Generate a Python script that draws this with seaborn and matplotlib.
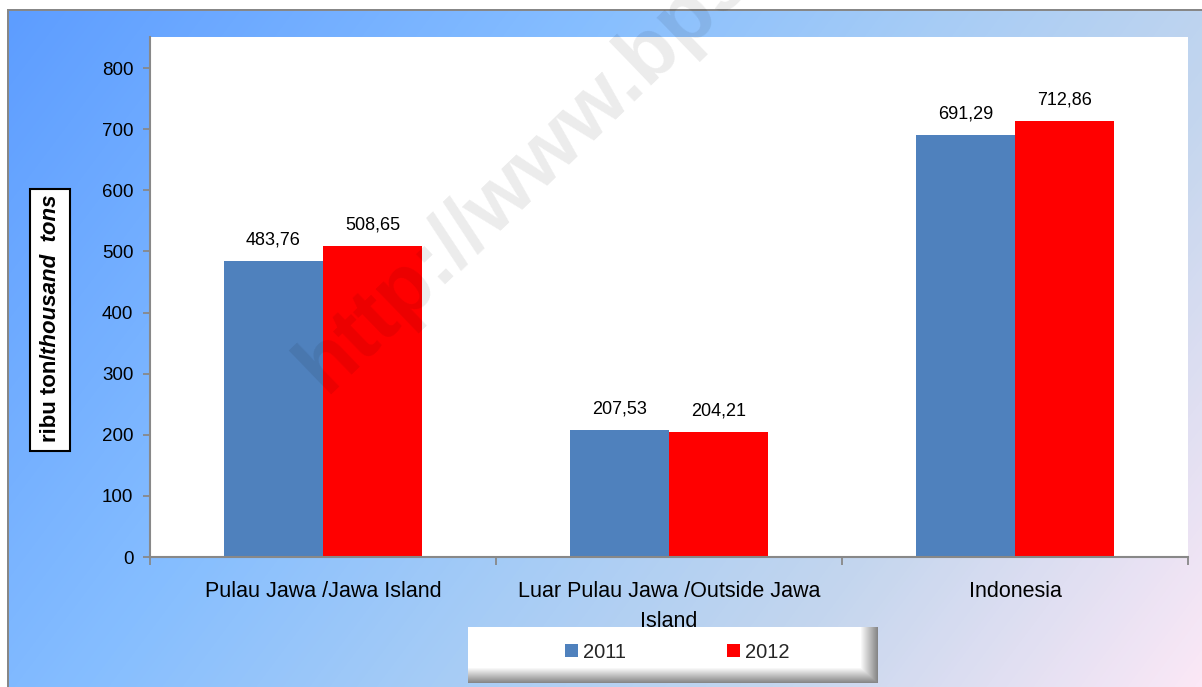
import numpy as np
import pandas as pd
import matplotlib
matplotlib.use("Agg")
import matplotlib.pyplot as plt
import seaborn as sns
from matplotlib.colors import LinearSegmentedColormap
from matplotlib.patches import Rectangle, Patch

# ---------------- data ----------------
categories = ["Pulau Jawa /Jawa Island",
              "Luar Pulau Jawa /Outside Jawa\nIsland",
              "Indonesia"]
years = ["2011", "2012"]
values_2011 = [483.76, 207.53, 691.29]
values_2012 = [508.65, 204.21, 712.86]
yticks = [0, 100, 200, 300, 400, 500, 600, 700, 800]
palette = {"2011": "#4F81BD", "2012": "#FF0000"}

df = pd.DataFrame({
    "category": categories * 2,
    "year": ["2011"] * 3 + ["2012"] * 3,
    "value": values_2011 + values_2012,
})

sns.set_theme(style="white")
FONT = ['Liberation Sans Narrow', 'Liberation Sans', 'DejaVu Sans']
plt.rcParams['font.family'] = FONT

W, H = 1202, 687
fig = plt.figure(figsize=(W / 100, H / 100), dpi=100)
fig.patch.set_facecolor("white")

# ---------------- background gradient ----------------
xx, yy = np.meshgrid(np.linspace(0, 1, W), np.linspace(0, 1, H))
t = 0.7 * xx + 0.3 * yy
cmap = LinearSegmentedColormap.from_list(
    "bg", [(0.0, "#5C9CFF"), (0.35, "#86BEFF"), (0.55, "#A6CCF6"),
           (0.75, "#C4D6EE"), (1.0, "#FBE8F6")])
img = cmap(t)[..., :3].copy()
img[:9, :] = 1.0
img[:, :7] = 1.0
img[9:11, 7:] = 0.53
img[9:, 7:9] = 0.53
fig.figimage(img, xo=0, yo=0, origin="upper", zorder=0)

# ---------------- main axes ----------------
ax = fig.add_axes([150 / W, 1 - 557 / H, (1188 - 150) / W, (557 - 37) / H], zorder=1)
ax.set_facecolor("white")
sns.barplot(data=df, x="category", y="value", hue="year", order=categories,
            hue_order=years, palette=palette, width=0.572, linewidth=0,
            saturation=1, ax=ax, legend=False)

for cont, vals in zip(ax.containers, [values_2011, values_2012]):
    ax.bar_label(cont, labels=[f"{v:.2f}".replace(".", ",") for v in vals],
                 padding=9, fontsize=13, color="black")

ax.set_xlim(-0.5, 2.5)
ax.set_ylim(0, 851)
ax.set_yticks(yticks)
ax.set_yticklabels([str(v) for v in yticks], fontsize=13.5, color="black")
ax.set_xticks([-0.5, 0.5, 1.5, 2.5])
ax.set_xticklabels([])
ax.set_xticks([0, 1, 2], minor=True)
ax.set_xticklabels(categories, minor=True, fontsize=15.5, color="black",
                   linespacing=1.6)
ax.tick_params(axis="x", which="major", direction="out", length=6, width=1.3,
               color="#888888", bottom=True)
ax.tick_params(axis="x", which="minor", length=0, pad=17, bottom=True)
ax.tick_params(axis="y", direction="out", length=5, width=1.3, color="#888888",
               pad=7, left=True)
ax.set_xlabel("")
ax.set_ylabel("")
for s in ["top", "right"]:
    ax.spines[s].set_visible(False)
for s in ["left", "bottom"]:
    ax.spines[s].set_color("#888888")
    ax.spines[s].set_linewidth(1.5)
ax.grid(False)

# ---------------- y label box ----------------
fig.patches.append(Rectangle((30 / W, 1 - 451 / H), 40 / W, 262 / H,
                             transform=fig.transFigure, facecolor="white",
                             edgecolor="black", linewidth=1.5, zorder=2))
t1 = fig.text(51 / W, 1 - 442 / H, "ribu ton/", rotation=90, ha="center",
              va="bottom", fontsize=16, weight="bold", color="black", zorder=3)
fig.canvas.draw()
bb = t1.get_window_extent(renderer=fig.canvas.get_renderer())
fig.text(51 / W, bb.y1 / H, "thousand  tons", rotation=90, ha="center",
         va="bottom", fontsize=16, weight="bold", style="italic",
         color="black", zorder=3)

# ---------------- legend box ----------------
bw, bh = 410, 56
box = np.ones((bh, bw, 3))
rows = np.arange(bh)
cols = np.arange(bw)
shade_b = np.clip((rows - (bh - 16)) / 16, 0, 1)[:, None] * 0.5
shade_r = np.clip((cols - (bw - 18)) / 18, 0, 1)[None, :] * 0.5
shade = np.maximum(shade_b, shade_r)
box = box - shade[..., None]
fig.figimage(box, xo=468, yo=H - 683, origin="upper", zorder=2)

handles = [Patch(facecolor=palette[y], edgecolor="none") for y in years]
fig.legend(handles, years, loc="center", bbox_to_anchor=(677 / W, 1 - 652 / H),
           ncol=2, frameon=False, fontsize=14.5, handlelength=0.65,
           handleheight=0.65, handletextpad=0.25, columnspacing=5.0)

# ---------------- watermark ----------------
fig.text(325 / W, 1 - 395 / H, "http://www.bps.go.id", rotation=44,
         rotation_mode="anchor", ha="left", va="baseline", fontsize=60,
         weight="bold", family=['Liberation Sans', 'DejaVu Sans'],
         color="black", alpha=0.08, zorder=10)

fig.savefig("out.png", dpi=100)
